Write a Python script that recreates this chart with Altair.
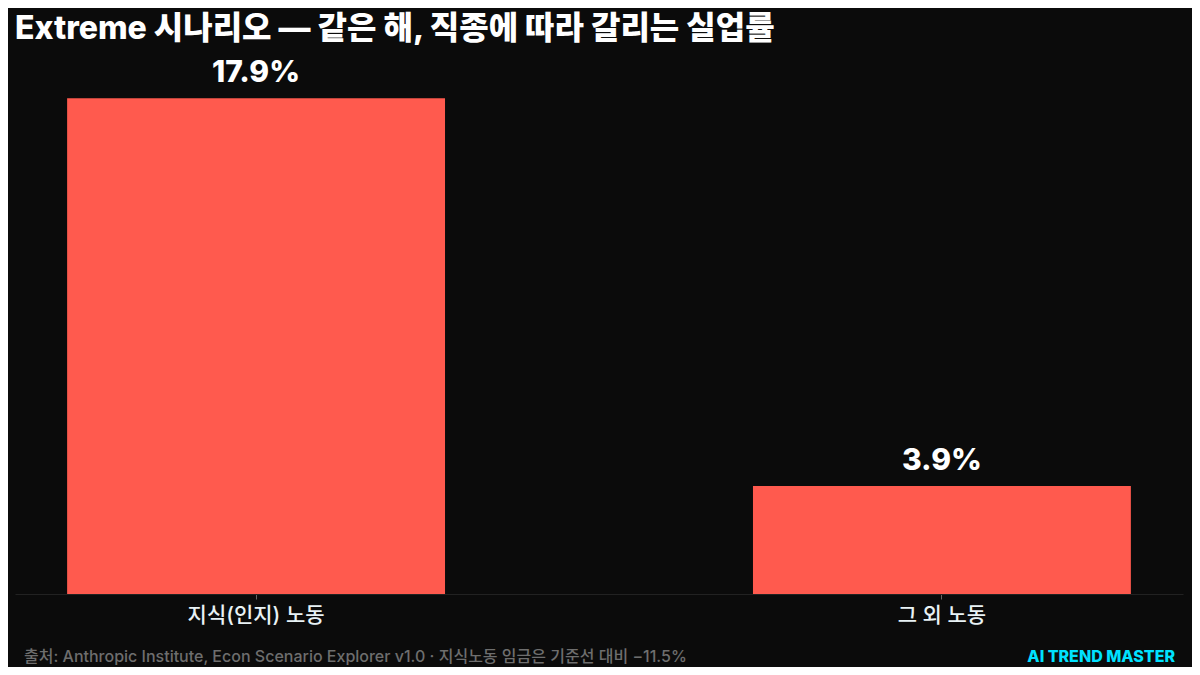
import altair as alt
import pandas as pd

categories = ["지식(인지) 노동", "그 외 노동"]
values = [17.9, 3.9]
value_labels = ["17.9%", "3.9%"]

title_text = "Extreme 시나리오 — 같은 해, 직종에 따라 갈리는 실업률"
footer_text = "출처: Anthropic Institute, Econ Scenario Explorer v1.0 · 지식노동 임금은 기준선 대비 −11.5%"
brand_text = "AI TREND MASTER"

FONT = "Inter, 'Noto Sans CJK KR', sans-serif"
BG = "#0b0b0b"
BAR = "#ff5a4e"

df = pd.DataFrame({"cat": categories, "val": values, "lab": value_labels})

x_enc = alt.X(
    "cat:N",
    sort=categories,
    title=None,
    scale=alt.Scale(paddingInner=0.449, paddingOuter=0.076),
    axis=alt.Axis(
        labelAngle=0,
        labelFontSize=21,
        labelFont=FONT,
        labelFontWeight=500,
        labelColor="#e8f2f5",
        labelPadding=5,
        domainColor="#222222",
        domainWidth=1,
        tickColor="#666666",
        tickSize=5,
        ticks=True,
        grid=False,
    ),
)
y_enc = alt.Y("val:Q", title=None, axis=None, scale=alt.Scale(domain=[0, 20], nice=False))

bars = alt.Chart(df).mark_bar(color=BAR, cornerRadius=0).encode(x=x_enc, y=y_enc)

labels = alt.Chart(df).mark_text(
    font=FONT, fontSize=30, fontWeight=800, color="#ffffff",
    baseline="alphabetic", align="center", dy=-16,
).encode(x=alt.X("cat:N", sort=categories), y="val:Q", text="lab:N")

foot_df = pd.DataFrame({"t": [footer_text]})
footer = alt.Chart(foot_df).mark_text(
    font=FONT, fontSize=16, fontWeight=500, color="#6e6e6e",
    align="left", baseline="alphabetic",
).encode(x=alt.value(9), y=alt.value(622), text="t:N")

brand_df = pd.DataFrame({"t": [brand_text]})
brand = alt.Chart(brand_df).mark_text(
    font=FONT, fontSize=16, fontWeight=800, color="#00e1ff",
    align="right", baseline="alphabetic",
).encode(x=alt.value(1160), y=alt.value(622), text="t:N")

chart = alt.layer(bars, labels, footer, brand).properties(
    width=1168,
    height=554,
    title=alt.Title(
        title_text,
        anchor="start",
        font=FONT,
        fontSize=32,
        fontWeight=800,
        color="#ffffff",
        baseline="alphabetic",
        offset=-31,
    ),
    autosize=alt.AutoSizeParams(type="none"),
    padding={"left": 7, "top": 32, "right": 9, "bottom": 73},
    background=BG,
).configure(font=FONT).configure_view(stroke=None, strokeWidth=0)

chart.save("out.html", embed_options={"renderer": "svg", "actions": False})
